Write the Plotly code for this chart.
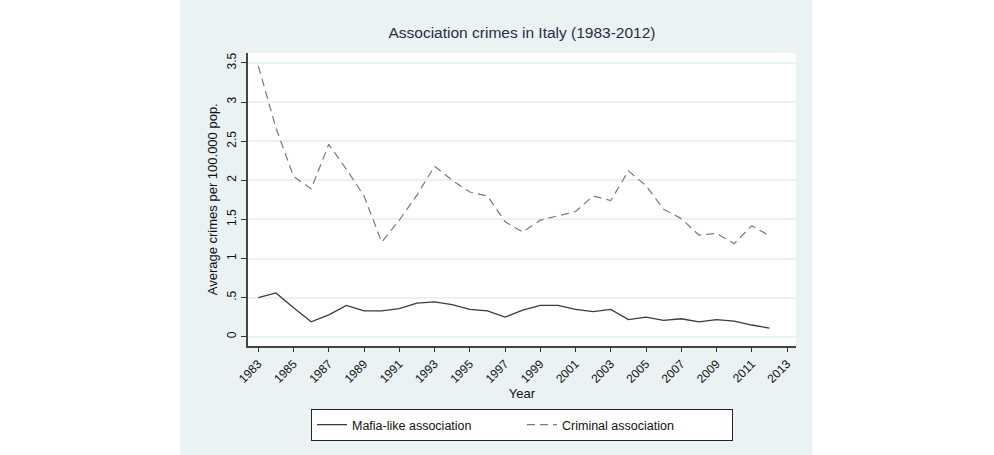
import plotly.graph_objects as go

years = list(range(1983, 2013))
mafia = [0.50, 0.56, 0.37, 0.19, 0.28, 0.40, 0.33, 0.33, 0.36, 0.43,
         0.445, 0.41, 0.35, 0.33, 0.25, 0.34, 0.40, 0.40, 0.35, 0.32,
         0.35, 0.22, 0.25, 0.21, 0.23, 0.19, 0.22, 0.20, 0.15, 0.11]
criminal = [3.46, 2.67, 2.05, 1.89, 2.46, 2.14, 1.80, 1.21, 1.49, 1.81,
            2.18, 2.00, 1.85, 1.80, 1.47, 1.34, 1.49, 1.55, 1.60, 1.80,
            1.74, 2.12, 1.93, 1.63, 1.51, 1.30, 1.32, 1.19, 1.42, 1.29]

x_ticks = list(range(1983, 2014, 2))
y_ticks = [0, 0.5, 1, 1.5, 2, 2.5, 3, 3.5]
y_tick_labels = ["0", ".5", "1", "1.5", "2", "2.5", "3", "3.5"]

BG = "#eaf2f3"
FONT = "Liberation Sans, Arial, sans-serif"

fig = go.Figure()
fig.add_trace(go.Scatter(x=years, y=mafia, mode="lines", name="Mafia-like association",
                         line=dict(color="#3a3a3a", width=1.3)))
fig.add_trace(go.Scatter(x=years, y=criminal, mode="lines", name="Criminal association",
                         line=dict(color="#7a7a7a", width=1.2, dash="8px,5px")))

fig.update_layout(
    width=994, height=455,
    margin=dict(l=248, r=198, t=53, b=108),
    paper_bgcolor=BG, plot_bgcolor="white",
    font=dict(family=FONT, size=12, color="#111"),
    title=dict(text="Association crimes in Italy (1983-2012)", x=0.5, xref="paper",
               y=1 - 33 / 455, yref="container", yanchor="middle", xanchor="center",
               font=dict(size=15.5, color="#252f45", family=FONT)),
    showlegend=True,
    legend=dict(orientation="h", xref="paper", x=0.5, xanchor="center",
                yref="container", y=1 - 409 / 455, yanchor="top",
                bgcolor="white", bordercolor="#222", borderwidth=1,
                font=dict(size=12.5, color="#111", family=FONT),
                entrywidth=165, entrywidthmode="pixels", traceorder="normal"),
    shapes=[
        dict(type="rect", xref="paper", yref="paper", layer="above",
             x0=-248 / 548, x1=-68 / 548, y0=-1, y1=2, fillcolor="white", line=dict(width=0)),
        dict(type="rect", xref="paper", yref="paper", layer="above",
             x0=(548 + 16.3) / 548, x1=3, y0=-1, y1=2, fillcolor="white", line=dict(width=0)),
    ],
)

fig.update_xaxes(range=[1982.415, 2013.51], tickvals=x_ticks, ticktext=[str(t) for t in x_ticks],
                 tickangle=-45, ticks="outside", ticklen=5, tickcolor="#333", tickwidth=1,
                 showline=True, linecolor="#444", linewidth=1.5, showgrid=False, zeroline=False,
                 tickfont=dict(size=12, color="#111"),
                 title=dict(text="Year", font=dict(size=13, color="#111"), standoff=2))
fig.update_yaxes(range=[-0.112, 3.627], tickvals=y_ticks, ticktext=y_tick_labels,
                 tickangle=-90, ticks="outside", ticklen=5, tickcolor="#333", tickwidth=1,
                 showline=True, linecolor="#444", linewidth=1.5,
                 showgrid=True, gridcolor=BG, gridwidth=1.5, zeroline=False,
                 tickfont=dict(size=12, color="#111"),
                 title=dict(text="Average crimes per 100.000 pop.", font=dict(size=13, color="#111"),
                            standoff=5))

fig.write_html("out.html")
